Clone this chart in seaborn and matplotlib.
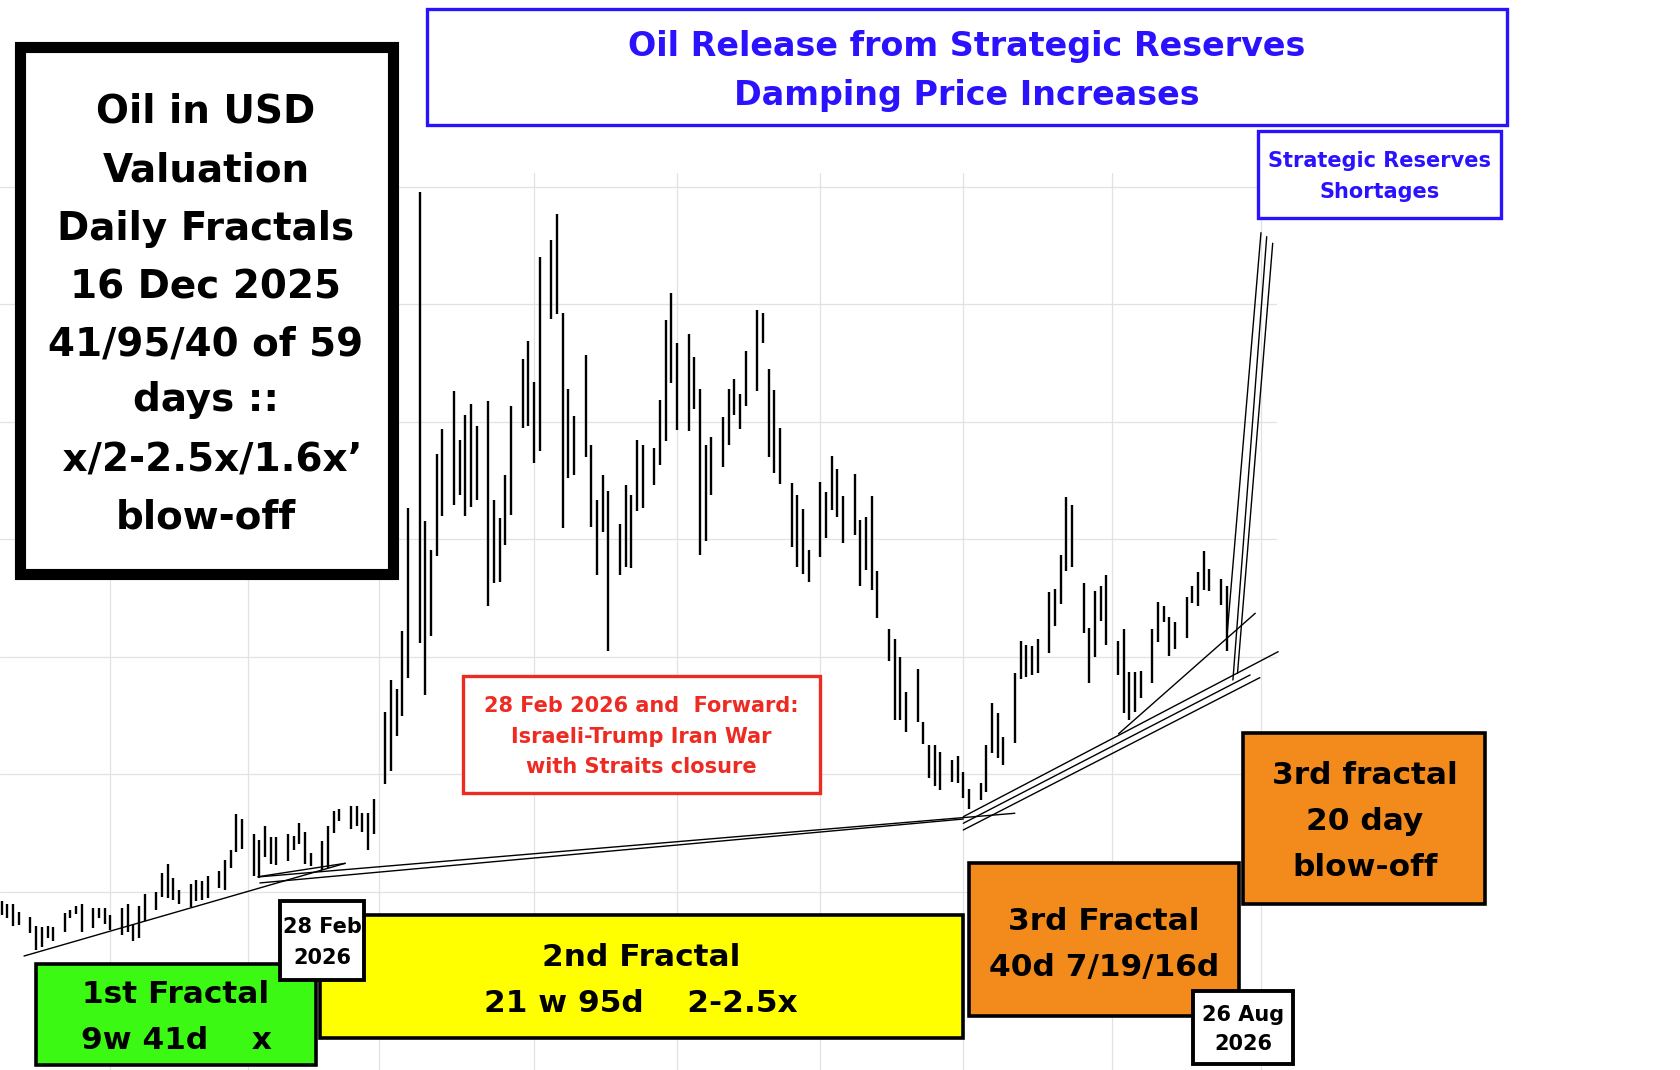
import numpy as np
import pandas as pd
import matplotlib
matplotlib.use("Agg")
import matplotlib.pyplot as plt
import seaborn as sns
from matplotlib.patches import Rectangle

# daily bars, 9 Dec 2025 .. 25 Aug 2026 (US market holidays skipped)
start = "2025-12-09"
holidays = ["2025-12-25", "2026-01-01", "2026-01-19", "2026-02-16",
            "2026-04-03", "2026-05-25", "2026-06-19", "2026-07-03"]

highs = [59.2, 59.0, 59.0, 58.3, 57.9, 57.1, 57.0, 57.1, 57.0, 58.2,
         58.5, 58.8, 59.0, 58.6, 58.6, 58.6, 58.0, 58.6, 59.0, 57.3,
         58.8, 59.8, 60.0, 61.6, 62.4, 61.2, 60.2, 60.7, 61.0, 60.9,
         61.4, 61.8, 62.7, 63.6, 66.6, 66.2, 64.9, 64.4, 65.6, 64.7,
         64.7, 64.9, 64.8, 65.9, 65.1, 63.3, 64.3, 65.6, 66.9, 67.1,
         67.3, 67.3, 66.7, 66.7, 67.9, 75.3, 78.0, 77.3, 82.2, 92.7,
         119.6, 91.6, 89.1, 97.3, 99.4, 102.6, 98.5, 100.6, 101.5, 99.7,
         101.8, 93.4, 91.8, 95.5, 101.4, 105.4, 106.9, 103.4, 114.0, 115.5,
         117.7, 109.3, 102.8, 100.5, 105.7, 98.0, 93.4, 95.5, 94.1, 91.3,
         94.6, 93.8, 98.5, 98.0, 97.8, 101.9, 108.7, 111.0, 106.7, 107.5,
         105.5, 102.8, 98.0, 98.7, 100.4, 102.8, 103.7, 102.4, 106.0, 109.5,
         109.3, 104.5, 102.7, 99.5, 94.8, 93.8, 92.6, 89.1, 94.9, 94.0,
         97.1, 96.0, 93.7, 95.6, 91.7, 91.9, 93.7, 87.3, 82.4, 81.5,
         80.0, 77.0, 79.0, 74.5, 72.5, 72.5, 71.9, 71.2, 71.6, 70.2,
         68.8, 69.3, 72.5, 76.1, 75.2, 73.2, 78.6, 81.4, 81.0, 80.9,
         81.5, 85.5, 85.8, 88.7, 93.6, 92.9, 86.3, 82.5, 85.6, 86.0,
         87.0, 81.4, 82.4, 78.7, 78.7, 78.8, 82.4, 84.7, 84.3, 83.4,
         83.0, 85.1, 86.0, 87.2, 89.0, 87.5, 86.6, 86.0]
lows = [58.0, 57.8, 57.1, 57.2, 56.5, 55.1, 55.3, 56.1, 55.8, 56.6,
        57.8, 58.1, 56.6, 56.9, 57.8, 57.3, 56.8, 56.3, 56.6, 55.8,
        56.1, 57.5, 58.5, 59.6, 59.5, 59.3, 59.0, 58.7, 59.2, 59.3,
        59.5, 60.3, 60.2, 62.0, 63.4, 63.7, 61.4, 61.2, 63.0, 62.4,
        62.3, 62.6, 63.6, 64.1, 62.4, 62.2, 61.9, 62.0, 65.0, 66.0,
        65.4, 65.6, 65.1, 63.6, 64.9, 69.2, 70.3, 73.3, 75.0, 78.2,
        81.2, 76.8, 81.8, 88.6, 92.0, 92.9, 93.8, 92.0, 92.8, 93.4,
        84.3, 86.3, 86.4, 89.5, 92.1, 99.5, 99.7, 96.5, 97.5, 108.8,
        109.2, 91.0, 95.2, 95.5, 97.0, 91.1, 87.0, 90.6, 80.5, 87.0,
        87.7, 87.6, 92.4, 92.7, 94.6, 96.3, 98.4, 103.3, 99.3, 99.2,
        101.1, 88.7, 89.9, 93.8, 96.2, 98.0, 100.6, 99.4, 101.4, 102.6,
        106.7, 97.0, 95.7, 94.7, 89.4, 87.7, 87.1, 86.4, 88.5, 90.1,
        92.5, 91.9, 89.7, 90.4, 86.0, 87.4, 85.7, 83.3, 79.7, 74.6,
        74.6, 73.6, 74.5, 72.6, 69.7, 69.0, 68.7, 69.4, 69.3, 68.0,
        67.1, 67.8, 68.5, 71.8, 71.4, 70.8, 72.7, 78.1, 78.3, 78.5,
        78.6, 80.3, 82.6, 84.5, 87.3, 87.7, 82.0, 77.8, 80.0, 83.1,
        81.0, 78.5, 75.2, 74.6, 75.3, 76.5, 77.8, 81.3, 83.0, 80.1,
        80.7, 81.6, 84.6, 84.3, 85.7, 85.6, 84.4, 80.5]

# hand drawn trend lines (bar slot, price) -> (bar slot, price)
trend_names = ["A", "S", "L1", "L2", "R1", "R2", "R3", "R4", "V1", "V2", "V3"]
trend_x0 = [3.9, 44.8, 44.8, 45.1, 168.0, 168.0, 168.0, 195.1, 214.0, 215.1, 215.9]
trend_y0 = [54.55, 61.30, 61.28, 60.77, 66.41, 65.85, 65.28, 73.45, 81.45, 78.04, 78.61]
trend_x1 = [60.0, 60.0, 177.0, 168.0, 223.0, 218.1, 219.8, 219.0, 220.0, 221.0, 222.05]
trend_y1 = [62.44, 62.44, 66.70, 66.21, 80.45, 78.47, 78.24, 83.72, 116.11, 115.77, 115.21]

# trading calendar: one empty slot per weekend, holidays leave no gap
calendar = pd.bdate_range(start, "2026-09-30", freq="C", holidays=holidays)
week0 = calendar[0] - pd.Timedelta(days=calendar[0].weekday())
cal_slot = np.arange(len(calendar)) + (calendar - week0).days // 7

n = len(highs)
bars = pd.DataFrame({"date": calendar[:n], "slot": cal_slot[:n],
                     "high": highs, "low": lows})

month_starts = pd.date_range("2026-01-01", "2026-09-01", freq="MS")
grid_slots = [calendar.searchsorted(m) + (m - week0).days // 7 for m in month_starts]

trends = pd.DataFrame({
    "line": trend_names * 2,
    "x": trend_x0 + trend_x1,
    "y": trend_y0 + trend_y1,
})

sns.set_theme(style="white")
plt.rcParams["font.family"] = ["DejaVu Sans"]

W, H = 1680, 1070
fig = plt.figure(figsize=(W / 100, H / 100), dpi=100)
fig.patch.set_facecolor("white")

ax = fig.add_axes([0, 0, 1277 / W, (H - 173) / H])
ax.set_facecolor("white")
for s in ax.spines.values():
    s.set_visible(False)
ax.set_xlim(-0.3, 222.8)
ax.set_ylim(44.85, 121.19)
ax.set_xticks(grid_slots)
ax.set_yticks(np.arange(60, 121, 10))
ax.tick_params(length=0, labelbottom=False, labelleft=False)
ax.grid(True, color="#e2e2e2", linewidth=0.9)
ax.set_axisbelow(True)

ax.vlines(bars["slot"], bars["low"], bars["high"], color="black", linewidth=1.7)

sns.lineplot(data=trends, x="x", y="y", units="line", estimator=None,
             sort=False, color="black", linewidth=1.0, ax=ax)
for ln in ax.lines:
    ln.set_clip_on(False)
ax.set_xlabel("")
ax.set_ylabel("")


def box(x0, y0, x1, y1, fc, ec, lw, z):
    lw_px = lw * 100 / 72
    inset = lw_px / 2
    fig.add_artist(Rectangle(((x0 + inset) / W, 1 - (y1 - inset) / H),
                             (x1 - x0 - lw_px) / W, (y1 - y0 - lw_px) / H,
                             transform=fig.transFigure, facecolor=fc,
                             edgecolor=ec, linewidth=lw, zorder=z))


def label(x, y, s, size, color="black", z=20):
    # y is the cap-height centre in pixels from the top
    base = y + 0.3645 * size * 100 / 72
    fig.text(x / W, 1 - base / H, s, ha="center", va="baseline",
             fontsize=size, fontweight="bold", color=color, zorder=z)


blue = "#2b12ff"
red = "#ee2b22"

# left info panel
box(14, 41, 399, 580, "white", "black", 8, 5)
left_lines = ["Oil in USD", "Valuation", "Daily Fractals", "16 Dec 2025",
              "41/95/40 of 59", "days ::", " x/2-2.5x/1.6x\u2019", "blow-off"]
left_y = [108, 167, 226, 284, 341, 397, 457, 514]
for s, y in zip(left_lines, left_y):
    label(206, y, s, 28)

# headline boxes
box(425, 7, 1509, 127, "white", blue, 2.4, 5)
label(967, 43.5, "Oil Release from Strategic Reserves", 24, blue)
label(967, 93, "Damping Price Increases", 24, blue)

box(1256, 129, 1503, 220, "white", blue, 2.4, 5)
label(1380, 159, "Strategic Reserves", 15, blue)
label(1380, 190, "Shortages", 15, blue)

box(461, 674, 822, 795, "white", red, 2.4, 5)
label(641, 704.5, "28 Feb 2026 and  Forward:", 15, red)
label(641, 735.5, "Israeli-Trump Iran War", 15, red)
label(641, 765, "with Straits closure", 15, red)

# fractal boxes
box(318, 913, 965, 1040, "#ffff00", "black", 2.6, 5)
label(641, 955, "2nd Fractal", 22.5)
label(641, 1001, "21 w 95d    2-2.5x", 22.5)

box(34, 962, 318, 1067, "#3cf914", "black", 2.6, 6)
label(176, 992, "1st Fractal", 22.5)
label(176, 1038, "9w 41d    x", 22.5)

box(967, 861, 1241, 1018, "#f28a1c", "black", 2.6, 6)
label(1104, 918.5, "3rd Fractal", 22.5)
label(1104, 965, "40d 7/19/16d", 22.5)

box(1241, 731, 1487, 906, "#f28a1c", "black", 2.6, 6)
label(1365, 773, "3rd fractal", 22.5)
label(1365, 819, "20 day", 22.5)
label(1365, 865, "blow-off", 22.5)

box(278, 899, 366, 982, "white", "black", 2.8, 7)
label(322, 925, "28 Feb", 15, z=21)
label(322, 956.5, "2026", 15, z=21)

box(1191, 989, 1295, 1066, "white", "black", 2.8, 7)
label(1243, 1013.5, "26 Aug", 15, z=21)
label(1243, 1042.5, "2026", 15, z=21)

fig.savefig("out.png", dpi=100, facecolor="white")
